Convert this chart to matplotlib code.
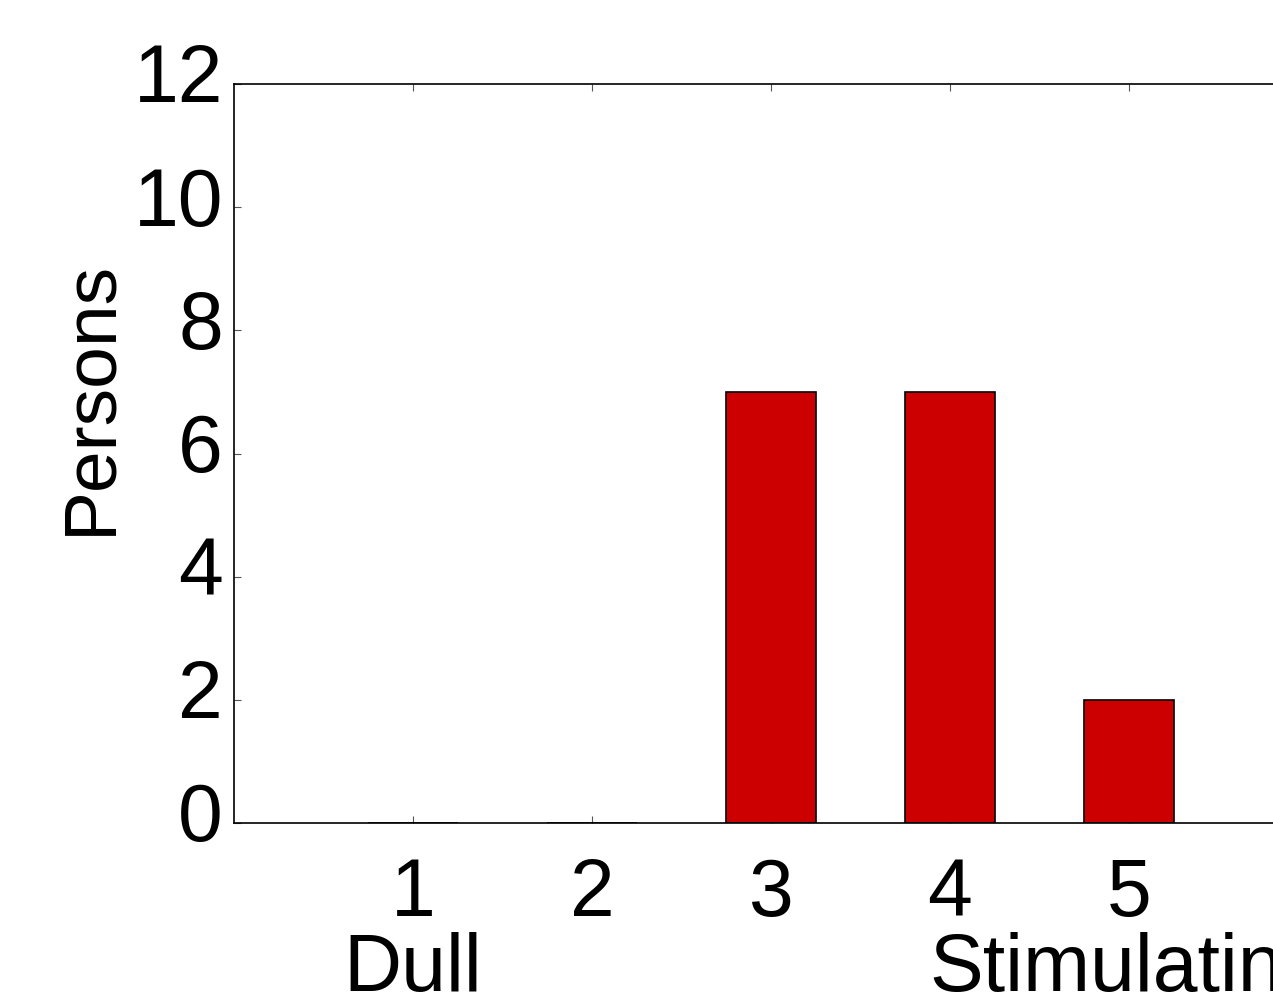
import matplotlib
matplotlib.use("Agg")
import matplotlib.pyplot as plt
from matplotlib.transforms import ScaledTranslation

ratings = [1, 2, 3, 4, 5]
persons = [0, 0, 7, 7, 2]
tick_labels = ["1\nDull", "2", "3", "4", "5\nStimulating"]
yticks = [0, 2, 4, 6, 8, 10, 12]

plt.rcParams['font.family'] = ['Liberation Sans', 'DejaVu Sans']

fig = plt.figure(figsize=(12.73, 10.04), dpi=100)
ax = fig.add_axes([234 / 1273, 180 / 1004, 1074 / 1273, 739 / 1004])

ax.bar(ratings, persons, width=0.5, color='#cc0000', edgecolor='black', linewidth=1.2, zorder=2)

ax.set_xlim(0, 6)
ax.set_ylim(0, 12)
ax.set_xticks(ratings)
ax.set_xticklabels(tick_labels, fontsize=58, linespacing=0.97)
ax.set_yticks(yticks)
ax.set_yticklabels([str(v) for v in yticks], fontsize=58)
ax.set_ylabel("Persons", fontsize=54)
ax.yaxis.set_label_coords(-0.101, 0.577)

ax.tick_params(axis='x', direction='in', top=True, bottom=True, length=5, width=0.8, pad=24, color='#555555')
ax.tick_params(axis='y', direction='in', left=True, right=False, length=5, width=0.8, pad=8, color='#555555')
for s in ax.spines.values():
    s.set_linewidth(1.2)

# y tick labels sit a bit above their ticks in the original
shift = ScaledTranslation(0, 12 / 100, fig.dpi_scale_trans)
for lab in ax.get_yticklabels():
    lab.set_transform(lab.get_transform() + shift)

fig.savefig("out.png", dpi=100)
